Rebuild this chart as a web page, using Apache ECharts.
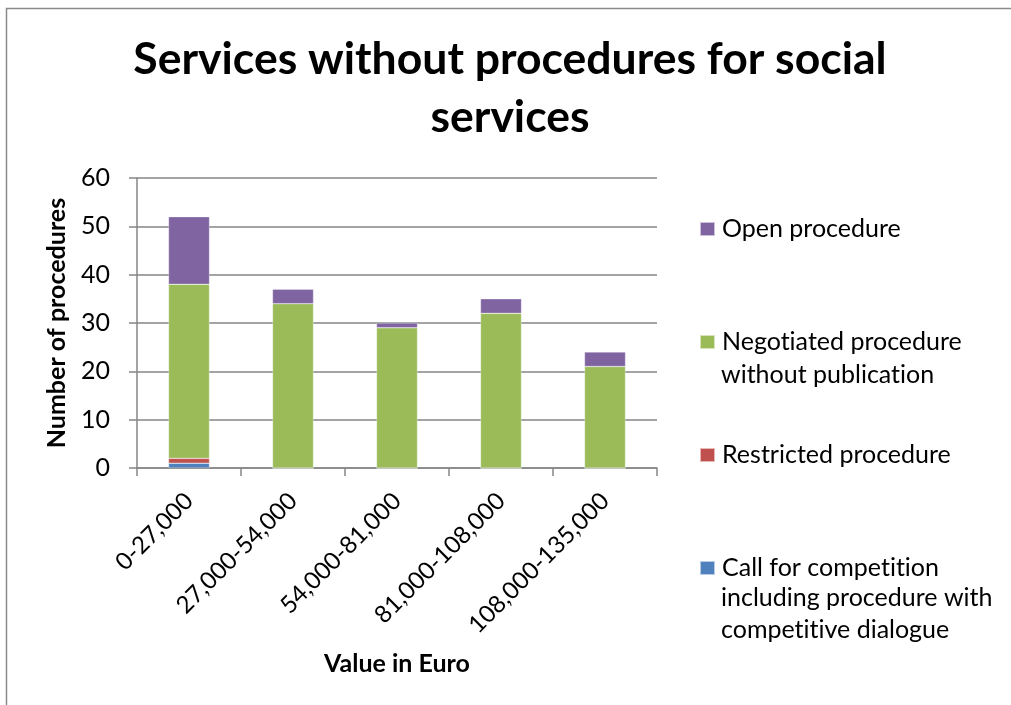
<!DOCTYPE html>
<html><head><meta charset="utf-8">
<script src="https://cdn.jsdelivr.net/npm/echarts@6/dist/echarts.min.js"></script>
<style>html,body{margin:0;padding:0;background:#fff}#c{width:1011px;height:705px}</style>
</head><body><div id="c"></div>
<script>
const categories = ['0-27,000', '27,000-54,000', '54,000-81,000', '81,000-108,000', '108,000-135,000'];
const seriesNames = [
  'Call for competition including procedure with competitive dialogue',
  'Restricted procedure',
  'Negotiated procedure without publication',
  'Open procedure'
];
const callForCompetition = [1, 0, 0, 0, 0];
const restrictedProcedure = [1, 0, 0, 0, 0];
const negotiatedProcedure = [36, 34, 29, 32, 21];
const openProcedure = [14, 3, 1, 3, 3];
const colors = ['#4F81BD', '#C0504D', '#9BBB59', '#8064A2'];
const legendFirstLines = {
  'Open procedure': 'Open procedure',
  'Negotiated procedure without publication': 'Negotiated procedure',
  'Restricted procedure': 'Restricted procedure',
  'Call for competition including procedure with competitive dialogue': 'Call for competition'
};

// Avoid Lato's "ti" ligature (Calibri-like look)
(function () {
  const P = CanvasRenderingContext2D.prototype;
  const orig = P.fillText;
  P.fillText = function () {
    try { this.textRendering = 'optimizeSpeed'; } catch (e) {}
    return orig.apply(this, arguments);
  };
})();

const FONT = 'Lato, "Open Sans", sans-serif';
const chart = echarts.init(document.getElementById('c'), null, {renderer: 'canvas'});
const dataSets = [callForCompetition, restrictedProcedure, negotiatedProcedure, openProcedure];

chart.setOption({
  backgroundColor: '#fff',
  animation: false,
  title: {
    text: 'Services without procedures for social\nservices',
    left: 510, top: 31, padding: 0,
    textAlign: 'center',
    textStyle: {fontFamily: FONT, fontWeight: 'bold', fontSize: 44.5, lineHeight: 58, color: '#000'}
  },
  grid: {left: 137, top: 178, right: 354, bottom: 237, containLabel: false},
  legend: {
    orient: 'vertical', left: 699, top: 213.5, padding: 0,
    itemWidth: 15, itemHeight: 14, itemGap: 82,
    selectedMode: false,
    icon: 'rect',
    data: seriesNames.slice().reverse(),
    formatter: n => legendFirstLines[n],
    textStyle: {fontFamily: FONT, fontSize: 25, lineHeight: 31, color: '#000', padding: [0, 0, 0, 2]}
  },
  graphic: [
    {type: 'rect', shape: {x: 6.5, y: 8.5, width: 2000, height: 2000}, style: {fill: 'none', stroke: '#8a8a8a', lineWidth: 1.5}, silent: true, z: -10},
    {type: 'text', left: 721, top: 375 - 15.5, style: {text: 'without publication', font: '25px ' + FONT, fill: '#000', lineHeight: 31}},
    {type: 'text', left: 721, top: 598 - 15.75, style: {text: 'including procedure with\ncompetitive dialogue', font: '25px ' + FONT, fill: '#000', lineHeight: 31.5}}
  ],
  xAxis: {
    type: 'category', data: categories,
    name: 'Value in Euro', nameLocation: 'middle', nameGap: 183,
    nameTextStyle: {fontFamily: FONT, fontWeight: 'bold', fontSize: 25, color: '#000'},
    axisLine: {lineStyle: {color: '#868686', width: 1.5}},
    axisTick: {show: true, length: 8, lineStyle: {color: '#868686', width: 1.5}},
    axisLabel: {rotate: 45, margin: 29, fontFamily: FONT, fontSize: 24, color: '#000', interval: 0}
  },
  yAxis: {
    type: 'value', min: 0, max: 60, interval: 10,
    name: 'Number of procedures', nameLocation: 'middle', nameGap: 68, nameRotate: 90,
    nameTextStyle: {fontFamily: FONT, fontWeight: 'bold', fontSize: 25, color: '#000'},
    axisLine: {show: true, lineStyle: {color: '#868686', width: 1.5}},
    axisTick: {show: true, length: 8, lineStyle: {color: '#868686', width: 1.5}},
    splitLine: {show: true, lineStyle: {color: '#868686', width: 1.5}},
    axisLabel: {margin: 27, fontFamily: FONT, fontSize: 25, color: '#000'}
  },
  series: seriesNames.map((name, i) => ({
    name, type: 'bar', stack: 'total', barWidth: 41,
    data: dataSets[i],
    itemStyle: {color: colors[i], borderColor: 'rgba(255,255,255,0.6)', borderWidth: 0.5}
  }))
});
</script></body></html>
